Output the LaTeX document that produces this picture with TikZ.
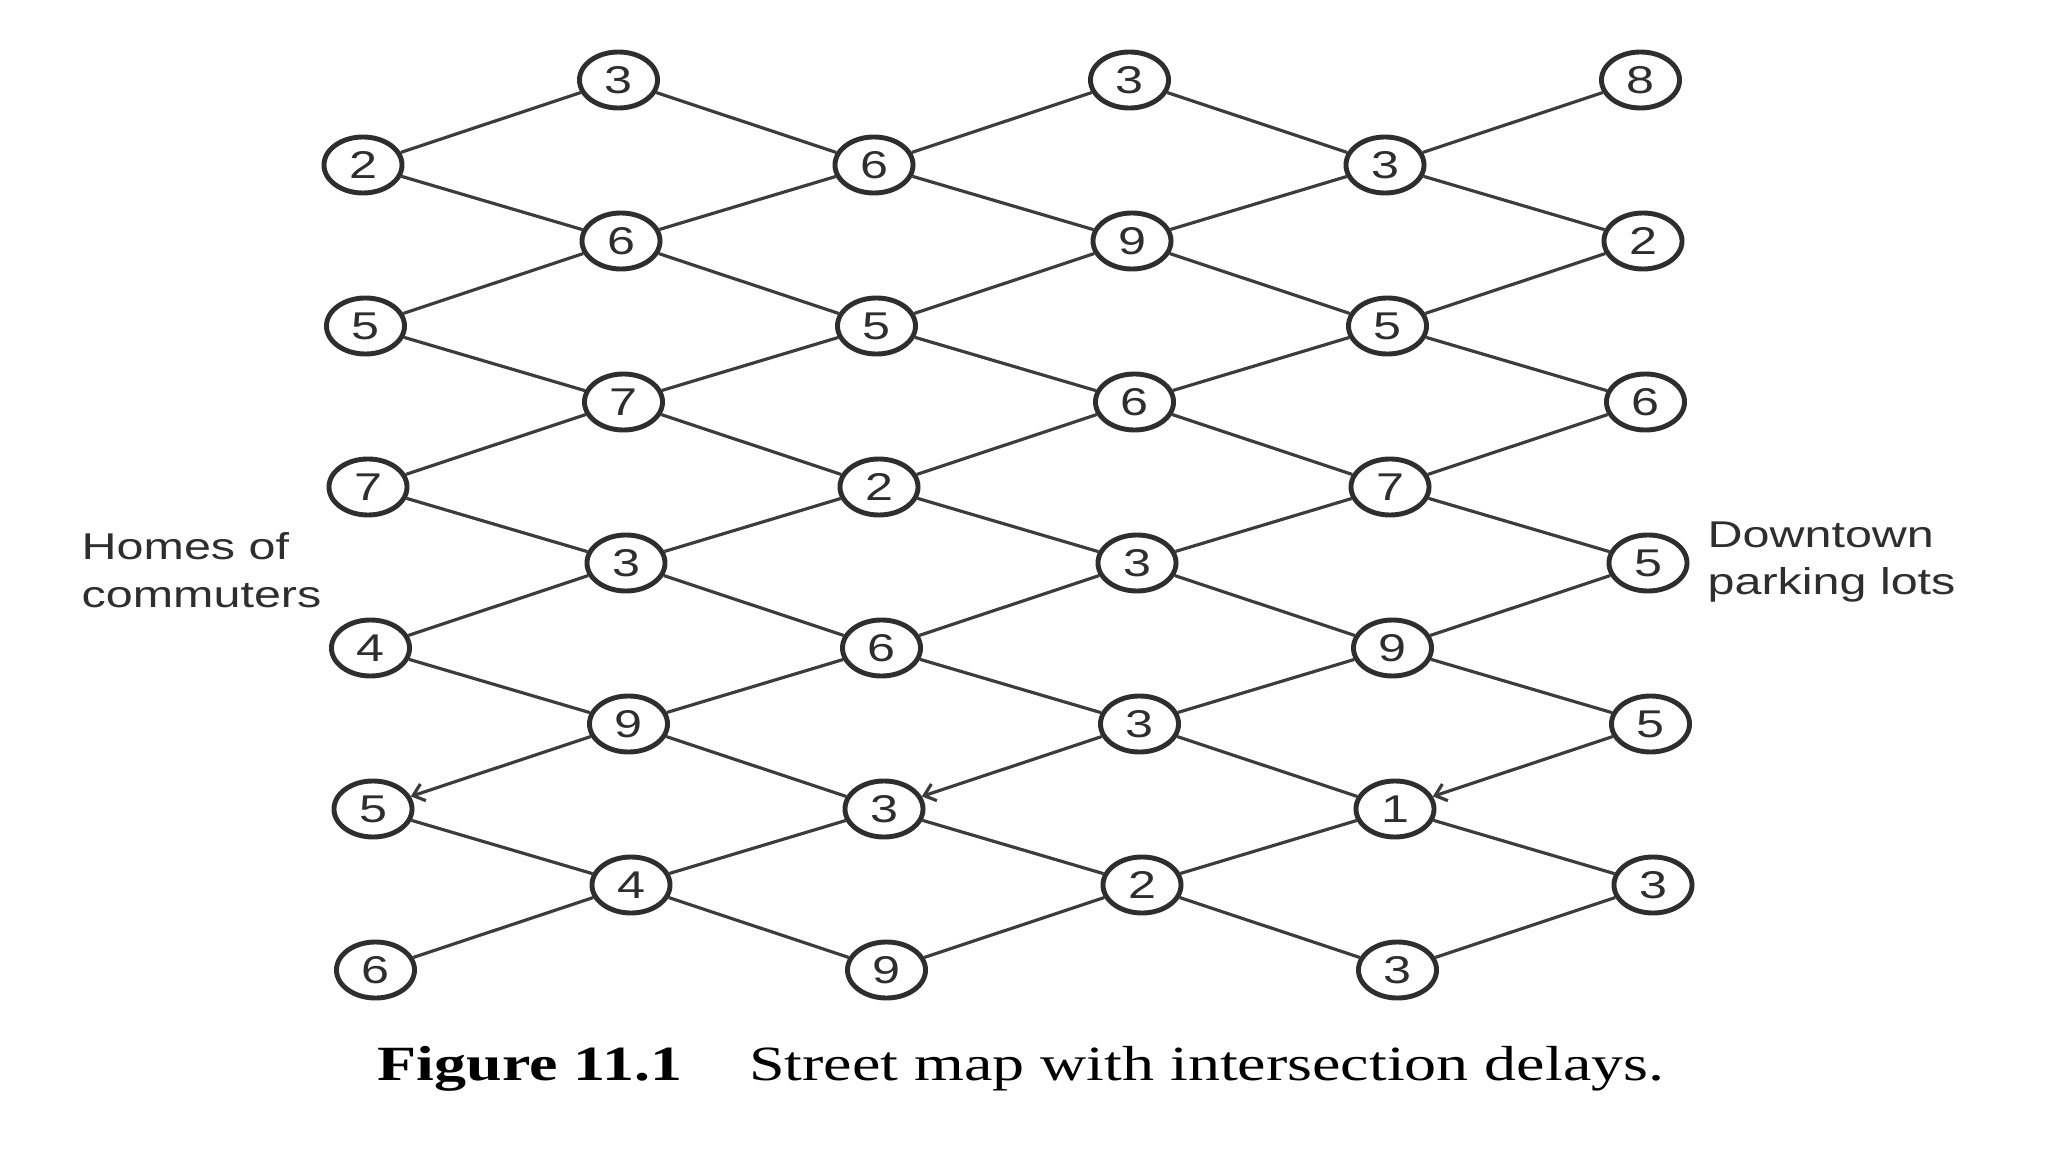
\documentclass[tikz,border=0pt]{standalone}
\usepackage{fontspec}
\setmainfont{Liberation Serif}[FakeStretch=1.3]
\newfontfamily\smsans{Liberation Sans}[FakeStretch=1.3]
\usepackage{tikz}
\usetikzlibrary{arrows.meta,shapes.geometric}
\definecolor{smink}  {HTML}{2E2E2E}
\definecolor{smline} {HTML}{3C3C3C}
\tikzset{
  smcross/.style={ellipse, draw=smink, line width=1.4pt, fill=white,
                  minimum width=0.78cm, minimum height=0.56cm, inner sep=0pt,
                  text=smink, font=\smsans\fontsize{11}{12}\selectfont},
  smedge/.style={draw=smline, line width=0.9pt},
  smtip/.style={-{Straight Barb[length=3pt,width=5pt]}},
  smlabel/.style={text=smink, align=left, anchor=west, inner sep=0pt,
                  font=\smsans\fontsize{10.6}{13.6}\selectfont},
}
\begin{document}
\begin{tikzpicture}[x=0.01cm,y=-0.01cm]
  \useasboundingbox (0,0) rectangle (2048,1152);
  % intersections, column by column
  \foreach \c/\vals in {0/{2,5,7,4,5,6},1/{3,6,7,3,9,4},2/{6,5,2,6,3,9},
                        3/{3,9,6,3,3,2},4/{3,5,7,9,1,3},5/{8,2,6,5,5,3}}
    {\foreach \v [count=\r from 0] in \vals
      {\node[smcross] (n-\c-\r)
         at ({363+255.5*\c+2.5*\r},{165-85*mod(\c,2)+161*\r}) {\v};}}
  % streets
  \foreach \c [evaluate=\c as \d using int(\c+1)] in {0,2,4}
    {\foreach \r in {0,1,2,3,5}
       {\draw[smedge] (n-\c-\r) -- (n-\d-\r);}
     \draw[smedge,smtip] (n-\d-4) -- (n-\c-4);
     \foreach \r [evaluate=\r as \s using int(\r+1)] in {0,...,4}
       {\draw[smedge] (n-\c-\r) -- (n-\d-\s);}}
  \foreach \c [evaluate=\c as \d using int(\c+1)] in {1,3}
    {\foreach \r in {0,...,5}
       {\draw[smedge] (n-\c-\r) -- (n-\d-\r);}
     \foreach \r [evaluate=\r as \s using int(\r-1)] in {1,...,5}
       {\draw[smedge] (n-\c-\r) -- (n-\d-\s);}}
  \node[smlabel] (homes) at (81,570) {Homes of\\commuters};
  \node[smlabel] (lots) at (1707,562) {Downtown\\parking lots};
  \node[text=black, font=\fontsize{14}{16}\selectfont] (caption) at (1021,1069)
    {\textbf{Figure 11.1}\hspace{19pt}Street map with intersection delays.};
\end{tikzpicture}
\end{document}
